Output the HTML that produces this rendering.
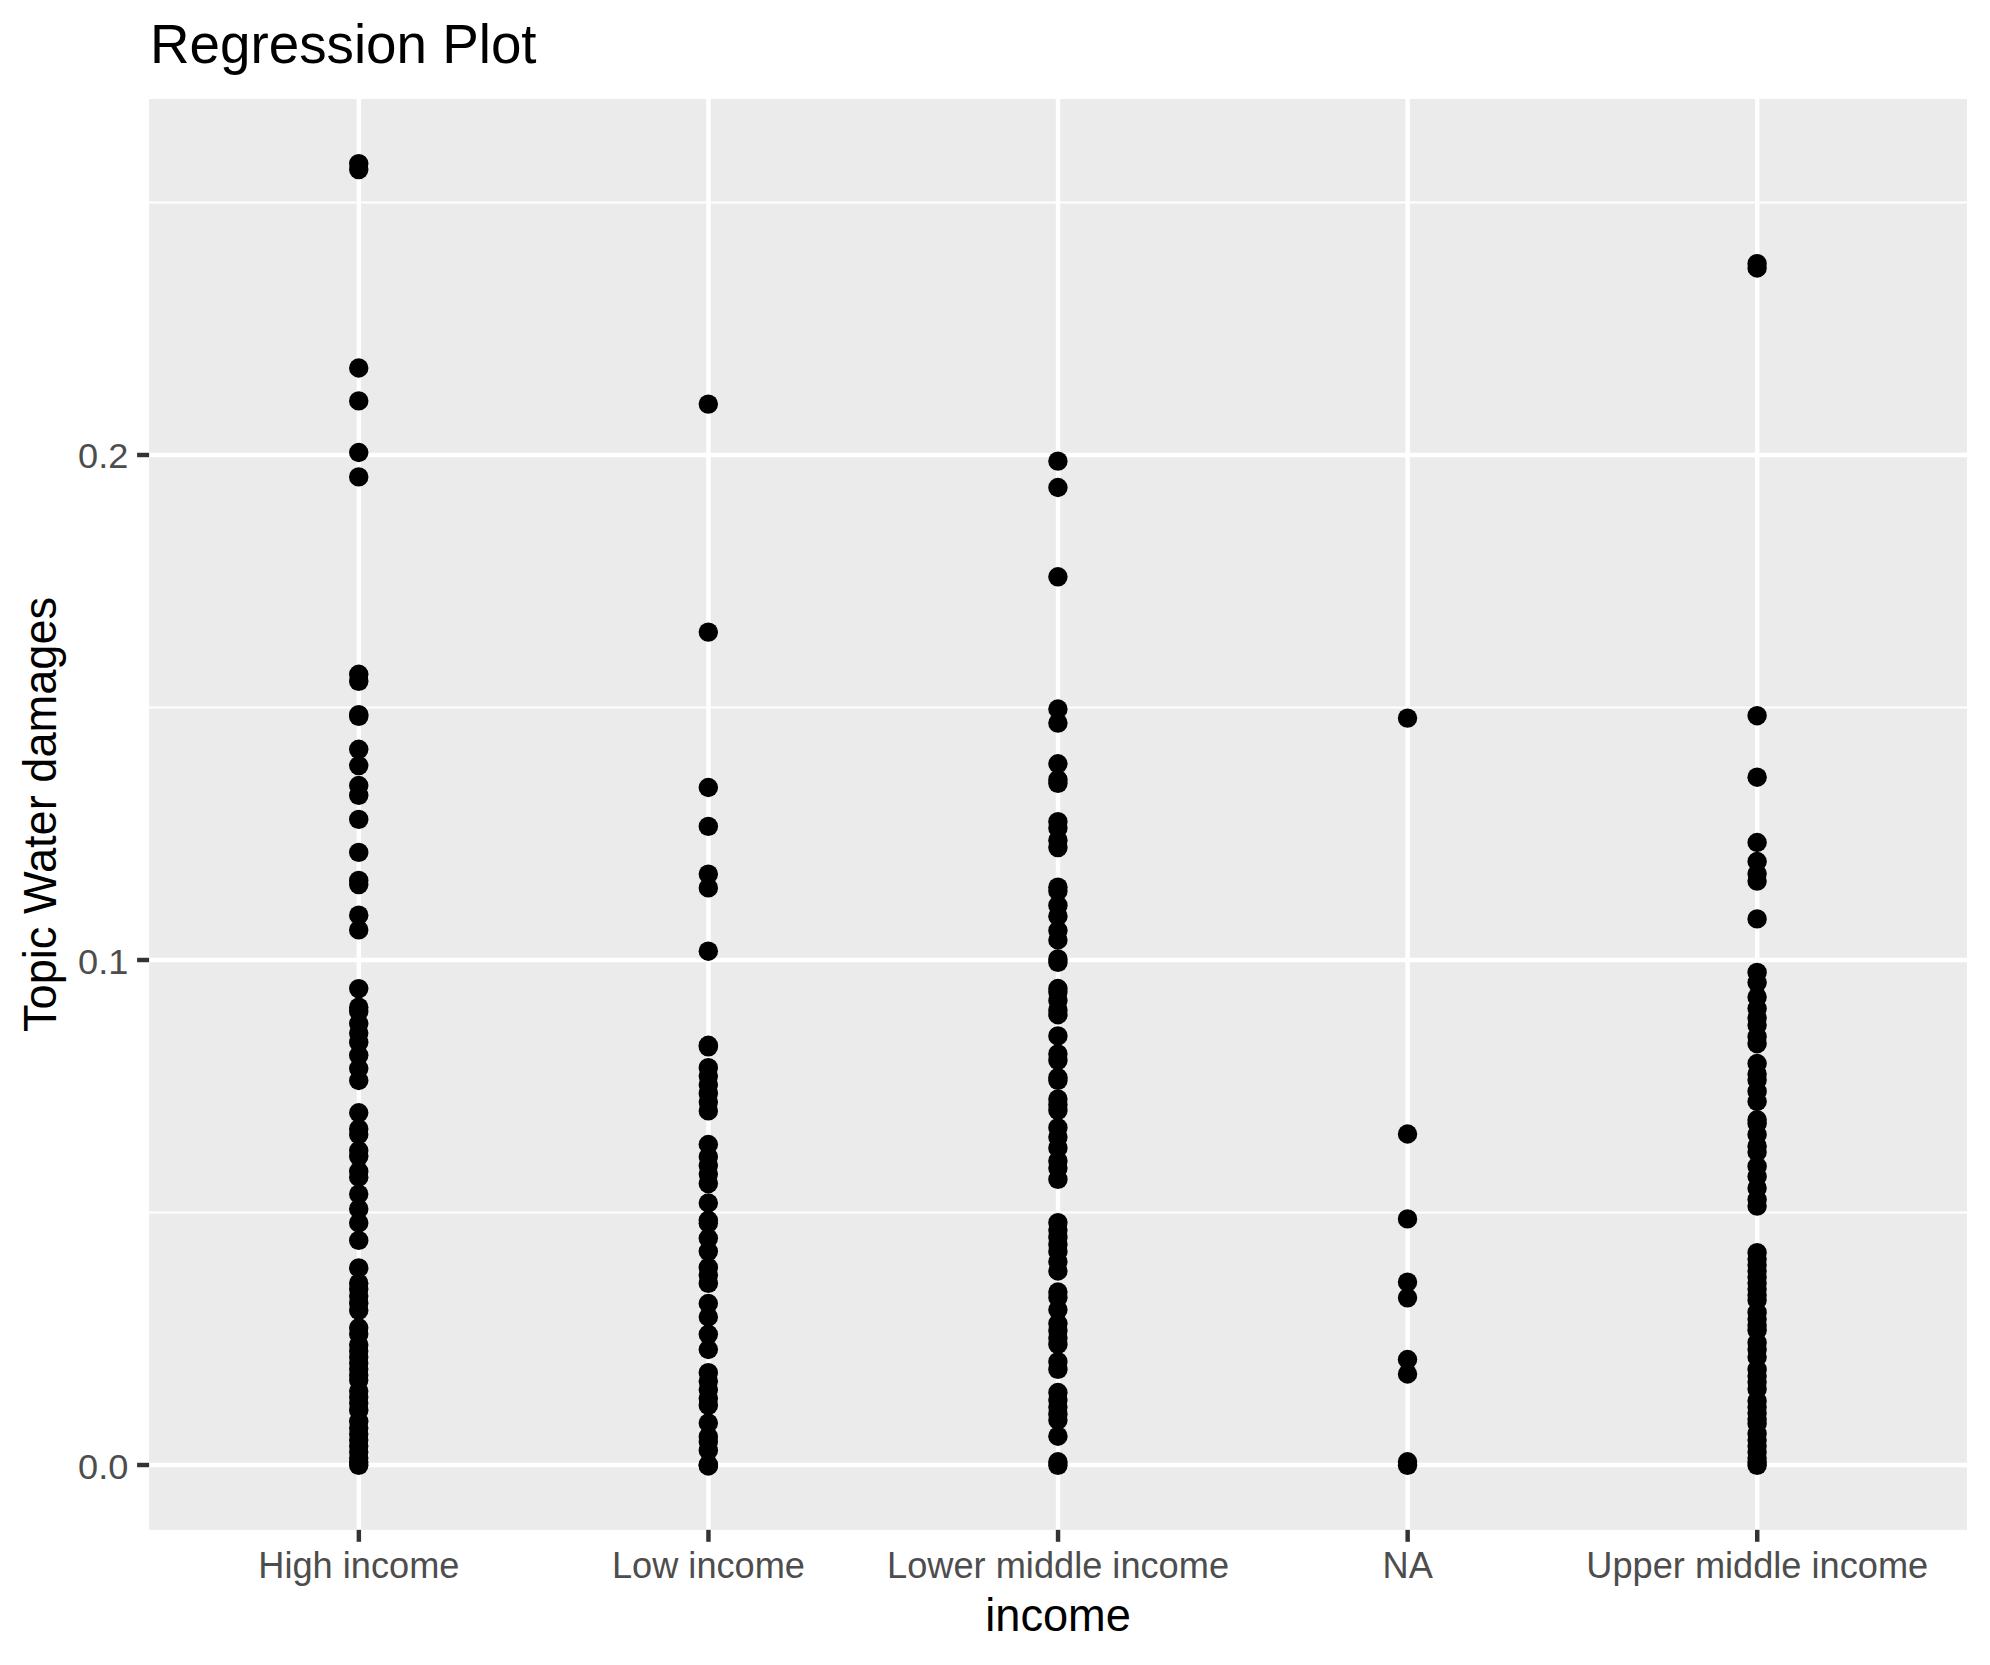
<!DOCTYPE html>
<html><head><meta charset="utf-8"><title>Regression Plot</title>
<style>html,body{margin:0;padding:0;background:#fff}svg{display:block}text{font-family:"Liberation Sans",Arial,Helvetica,sans-serif}</style></head><body>
<svg width="1990" height="1665" viewBox="0 0 1990 1665">
<rect width="1990" height="1665" fill="#fff"/>
<rect x="149.1" y="99.0" width="1817.90" height="1430.85" fill="#EBEBEB"/>
<g stroke="#fff" stroke-width="2.22">
<line x1="149.1" x2="1967.0" y1="1212.50" y2="1212.50"/>
<line x1="149.1" x2="1967.0" y1="707.50" y2="707.50"/>
<line x1="149.1" x2="1967.0" y1="202.50" y2="202.50"/>
</g>
<g stroke="#fff" stroke-width="4.45">
<line x1="149.1" x2="1967.0" y1="1465.00" y2="1465.00"/>
<line x1="149.1" x2="1967.0" y1="960.00" y2="960.00"/>
<line x1="149.1" x2="1967.0" y1="455.00" y2="455.00"/>
<line x1="358.86" x2="358.86" y1="99.0" y2="1529.85"/>
<line x1="708.45" x2="708.45" y1="99.0" y2="1529.85"/>
<line x1="1058.05" x2="1058.05" y1="99.0" y2="1529.85"/>
<line x1="1407.65" x2="1407.65" y1="99.0" y2="1529.85"/>
<line x1="1757.24" x2="1757.24" y1="99.0" y2="1529.85"/>
</g>
<g fill="#000">
<circle cx="358.73" cy="163.6" r="9.72"/>
<circle cx="358.73" cy="169.6" r="9.72"/>
<circle cx="358.73" cy="368.0" r="9.72"/>
<circle cx="358.73" cy="400.9" r="9.72"/>
<circle cx="358.73" cy="452.5" r="9.72"/>
<circle cx="358.73" cy="476.9" r="9.72"/>
<circle cx="358.73" cy="674.3" r="9.72"/>
<circle cx="358.73" cy="681.3" r="9.72"/>
<circle cx="358.73" cy="714.6" r="9.72"/>
<circle cx="358.73" cy="716.4" r="9.72"/>
<circle cx="358.73" cy="749.3" r="9.72"/>
<circle cx="358.73" cy="765.6" r="9.72"/>
<circle cx="358.73" cy="785.5" r="9.72"/>
<circle cx="358.73" cy="795.3" r="9.72"/>
<circle cx="358.73" cy="819.4" r="9.72"/>
<circle cx="358.73" cy="852.4" r="9.72"/>
<circle cx="358.73" cy="880.4" r="9.72"/>
<circle cx="358.73" cy="884.6" r="9.72"/>
<circle cx="358.73" cy="915.2" r="9.72"/>
<circle cx="358.73" cy="929.9" r="9.72"/>
<circle cx="358.73" cy="988.6" r="9.72"/>
<circle cx="358.73" cy="1007.2" r="9.72"/>
<circle cx="358.73" cy="1011.4" r="9.72"/>
<circle cx="358.73" cy="1023.6" r="9.72"/>
<circle cx="358.73" cy="1033.0" r="9.72"/>
<circle cx="358.73" cy="1042.3" r="9.72"/>
<circle cx="358.73" cy="1055.3" r="9.72"/>
<circle cx="358.73" cy="1068.6" r="9.72"/>
<circle cx="358.73" cy="1080.5" r="9.72"/>
<circle cx="358.73" cy="1112.8" r="9.72"/>
<circle cx="358.73" cy="1128.9" r="9.72"/>
<circle cx="358.73" cy="1134.7" r="9.72"/>
<circle cx="358.73" cy="1150.5" r="9.72"/>
<circle cx="358.73" cy="1156.3" r="9.72"/>
<circle cx="358.73" cy="1171.4" r="9.72"/>
<circle cx="358.73" cy="1177.2" r="9.72"/>
<circle cx="358.73" cy="1194.1" r="9.72"/>
<circle cx="358.73" cy="1208.9" r="9.72"/>
<circle cx="358.73" cy="1222.9" r="9.72"/>
<circle cx="358.73" cy="1240.4" r="9.72"/>
<circle cx="358.73" cy="1267.9" r="9.72"/>
<circle cx="358.73" cy="1283.2" r="9.72"/>
<circle cx="358.73" cy="1288.9" r="9.72"/>
<circle cx="358.73" cy="1296.1" r="9.72"/>
<circle cx="358.73" cy="1303.3" r="9.72"/>
<circle cx="358.73" cy="1310.5" r="9.72"/>
<circle cx="358.73" cy="1327.8" r="9.72"/>
<circle cx="358.73" cy="1333.9" r="9.72"/>
<circle cx="358.73" cy="1344.9" r="9.72"/>
<circle cx="358.73" cy="1351.0" r="9.72"/>
<circle cx="358.73" cy="1357.0" r="9.72"/>
<circle cx="358.73" cy="1363.0" r="9.72"/>
<circle cx="358.73" cy="1369.0" r="9.72"/>
<circle cx="358.73" cy="1375.0" r="9.72"/>
<circle cx="358.73" cy="1380.0" r="9.72"/>
<circle cx="358.73" cy="1391.0" r="9.72"/>
<circle cx="358.73" cy="1397.0" r="9.72"/>
<circle cx="358.73" cy="1403.0" r="9.72"/>
<circle cx="358.73" cy="1410.3" r="9.72"/>
<circle cx="358.73" cy="1421.3" r="9.72"/>
<circle cx="358.73" cy="1428.0" r="9.72"/>
<circle cx="358.73" cy="1434.0" r="9.72"/>
<circle cx="358.73" cy="1440.0" r="9.72"/>
<circle cx="358.73" cy="1446.0" r="9.72"/>
<circle cx="358.73" cy="1452.0" r="9.72"/>
<circle cx="358.73" cy="1458.0" r="9.72"/>
<circle cx="358.73" cy="1462.0" r="9.72"/>
<circle cx="358.73" cy="1465.3" r="9.72"/>
<circle cx="708.32" cy="404.1" r="9.72"/>
<circle cx="708.32" cy="632.1" r="9.72"/>
<circle cx="708.32" cy="787.5" r="9.72"/>
<circle cx="708.32" cy="826.4" r="9.72"/>
<circle cx="708.32" cy="874.1" r="9.72"/>
<circle cx="708.32" cy="887.9" r="9.72"/>
<circle cx="708.32" cy="951.2" r="9.72"/>
<circle cx="708.32" cy="1045.3" r="9.72"/>
<circle cx="708.32" cy="1046.8" r="9.72"/>
<circle cx="708.32" cy="1067.7" r="9.72"/>
<circle cx="708.32" cy="1076.0" r="9.72"/>
<circle cx="708.32" cy="1084.8" r="9.72"/>
<circle cx="708.32" cy="1093.4" r="9.72"/>
<circle cx="708.32" cy="1102.0" r="9.72"/>
<circle cx="708.32" cy="1110.9" r="9.72"/>
<circle cx="708.32" cy="1144.5" r="9.72"/>
<circle cx="708.32" cy="1156.8" r="9.72"/>
<circle cx="708.32" cy="1165.5" r="9.72"/>
<circle cx="708.32" cy="1174.1" r="9.72"/>
<circle cx="708.32" cy="1183.6" r="9.72"/>
<circle cx="708.32" cy="1203.0" r="9.72"/>
<circle cx="708.32" cy="1220.3" r="9.72"/>
<circle cx="708.32" cy="1223.2" r="9.72"/>
<circle cx="708.32" cy="1238.3" r="9.72"/>
<circle cx="708.32" cy="1251.3" r="9.72"/>
<circle cx="708.32" cy="1267.3" r="9.72"/>
<circle cx="708.32" cy="1275.2" r="9.72"/>
<circle cx="708.32" cy="1283.4" r="9.72"/>
<circle cx="708.32" cy="1303.5" r="9.72"/>
<circle cx="708.32" cy="1317.0" r="9.72"/>
<circle cx="708.32" cy="1334.3" r="9.72"/>
<circle cx="708.32" cy="1349.5" r="9.72"/>
<circle cx="708.32" cy="1372.7" r="9.72"/>
<circle cx="708.32" cy="1381.2" r="9.72"/>
<circle cx="708.32" cy="1389.8" r="9.72"/>
<circle cx="708.32" cy="1398.5" r="9.72"/>
<circle cx="708.32" cy="1405.4" r="9.72"/>
<circle cx="708.32" cy="1423.0" r="9.72"/>
<circle cx="708.32" cy="1436.7" r="9.72"/>
<circle cx="708.32" cy="1441.7" r="9.72"/>
<circle cx="708.32" cy="1450.4" r="9.72"/>
<circle cx="708.32" cy="1464.5" r="9.72"/>
<circle cx="708.32" cy="1465.3" r="9.72"/>
<circle cx="708.32" cy="1466.0" r="9.72"/>
<circle cx="1057.92" cy="461.1" r="9.72"/>
<circle cx="1057.92" cy="487.5" r="9.72"/>
<circle cx="1057.92" cy="576.8" r="9.72"/>
<circle cx="1057.92" cy="709.0" r="9.72"/>
<circle cx="1057.92" cy="723.1" r="9.72"/>
<circle cx="1057.92" cy="763.8" r="9.72"/>
<circle cx="1057.92" cy="779.6" r="9.72"/>
<circle cx="1057.92" cy="783.3" r="9.72"/>
<circle cx="1057.92" cy="821.7" r="9.72"/>
<circle cx="1057.92" cy="827.9" r="9.72"/>
<circle cx="1057.92" cy="840.2" r="9.72"/>
<circle cx="1057.92" cy="847.6" r="9.72"/>
<circle cx="1057.92" cy="887.2" r="9.72"/>
<circle cx="1057.92" cy="891.0" r="9.72"/>
<circle cx="1057.92" cy="905.4" r="9.72"/>
<circle cx="1057.92" cy="916.2" r="9.72"/>
<circle cx="1057.92" cy="930.6" r="9.72"/>
<circle cx="1057.92" cy="940.0" r="9.72"/>
<circle cx="1057.92" cy="958.9" r="9.72"/>
<circle cx="1057.92" cy="962.4" r="9.72"/>
<circle cx="1057.92" cy="988.5" r="9.72"/>
<circle cx="1057.92" cy="991.9" r="9.72"/>
<circle cx="1057.92" cy="1000.5" r="9.72"/>
<circle cx="1057.92" cy="1009.9" r="9.72"/>
<circle cx="1057.92" cy="1014.7" r="9.72"/>
<circle cx="1057.92" cy="1035.9" r="9.72"/>
<circle cx="1057.92" cy="1053.9" r="9.72"/>
<circle cx="1057.92" cy="1060.4" r="9.72"/>
<circle cx="1057.92" cy="1077.5" r="9.72"/>
<circle cx="1057.92" cy="1080.4" r="9.72"/>
<circle cx="1057.92" cy="1099.0" r="9.72"/>
<circle cx="1057.92" cy="1104.7" r="9.72"/>
<circle cx="1057.92" cy="1110.4" r="9.72"/>
<circle cx="1057.92" cy="1127.7" r="9.72"/>
<circle cx="1057.92" cy="1137.1" r="9.72"/>
<circle cx="1057.92" cy="1147.9" r="9.72"/>
<circle cx="1057.92" cy="1160.9" r="9.72"/>
<circle cx="1057.92" cy="1168.1" r="9.72"/>
<circle cx="1057.92" cy="1179.4" r="9.72"/>
<circle cx="1057.92" cy="1222.7" r="9.72"/>
<circle cx="1057.92" cy="1230.1" r="9.72"/>
<circle cx="1057.92" cy="1237.3" r="9.72"/>
<circle cx="1057.92" cy="1244.5" r="9.72"/>
<circle cx="1057.92" cy="1251.7" r="9.72"/>
<circle cx="1057.92" cy="1261.8" r="9.72"/>
<circle cx="1057.92" cy="1271.0" r="9.72"/>
<circle cx="1057.92" cy="1292.0" r="9.72"/>
<circle cx="1057.92" cy="1297.6" r="9.72"/>
<circle cx="1057.92" cy="1309.8" r="9.72"/>
<circle cx="1057.92" cy="1323.5" r="9.72"/>
<circle cx="1057.92" cy="1330.7" r="9.72"/>
<circle cx="1057.92" cy="1337.9" r="9.72"/>
<circle cx="1057.92" cy="1344.4" r="9.72"/>
<circle cx="1057.92" cy="1361.7" r="9.72"/>
<circle cx="1057.92" cy="1369.4" r="9.72"/>
<circle cx="1057.92" cy="1392.5" r="9.72"/>
<circle cx="1057.92" cy="1399.9" r="9.72"/>
<circle cx="1057.92" cy="1407.1" r="9.72"/>
<circle cx="1057.92" cy="1414.3" r="9.72"/>
<circle cx="1057.92" cy="1420.1" r="9.72"/>
<circle cx="1057.92" cy="1436.2" r="9.72"/>
<circle cx="1057.92" cy="1461.8" r="9.72"/>
<circle cx="1057.92" cy="1465.3" r="9.72"/>
<circle cx="1407.52" cy="718.1" r="9.72"/>
<circle cx="1407.52" cy="1134.0" r="9.72"/>
<circle cx="1407.52" cy="1218.9" r="9.72"/>
<circle cx="1407.52" cy="1282.1" r="9.72"/>
<circle cx="1407.52" cy="1297.8" r="9.72"/>
<circle cx="1407.52" cy="1359.5" r="9.72"/>
<circle cx="1407.52" cy="1374.0" r="9.72"/>
<circle cx="1407.52" cy="1461.8" r="9.72"/>
<circle cx="1407.52" cy="1465.3" r="9.72"/>
<circle cx="1757.11" cy="263.7" r="9.72"/>
<circle cx="1757.11" cy="268.0" r="9.72"/>
<circle cx="1757.11" cy="715.7" r="9.72"/>
<circle cx="1757.11" cy="777.2" r="9.72"/>
<circle cx="1757.11" cy="842.5" r="9.72"/>
<circle cx="1757.11" cy="861.5" r="9.72"/>
<circle cx="1757.11" cy="873.8" r="9.72"/>
<circle cx="1757.11" cy="881.1" r="9.72"/>
<circle cx="1757.11" cy="918.9" r="9.72"/>
<circle cx="1757.11" cy="972.4" r="9.72"/>
<circle cx="1757.11" cy="982.6" r="9.72"/>
<circle cx="1757.11" cy="997.0" r="9.72"/>
<circle cx="1757.11" cy="1008.6" r="9.72"/>
<circle cx="1757.11" cy="1017.9" r="9.72"/>
<circle cx="1757.11" cy="1025.1" r="9.72"/>
<circle cx="1757.11" cy="1036.7" r="9.72"/>
<circle cx="1757.11" cy="1043.7" r="9.72"/>
<circle cx="1757.11" cy="1063.5" r="9.72"/>
<circle cx="1757.11" cy="1074.1" r="9.72"/>
<circle cx="1757.11" cy="1079.9" r="9.72"/>
<circle cx="1757.11" cy="1091.4" r="9.72"/>
<circle cx="1757.11" cy="1101.5" r="9.72"/>
<circle cx="1757.11" cy="1119.8" r="9.72"/>
<circle cx="1757.11" cy="1123.6" r="9.72"/>
<circle cx="1757.11" cy="1134.7" r="9.72"/>
<circle cx="1757.11" cy="1146.2" r="9.72"/>
<circle cx="1757.11" cy="1152.0" r="9.72"/>
<circle cx="1757.11" cy="1166.4" r="9.72"/>
<circle cx="1757.11" cy="1176.5" r="9.72"/>
<circle cx="1757.11" cy="1188.0" r="9.72"/>
<circle cx="1757.11" cy="1199.5" r="9.72"/>
<circle cx="1757.11" cy="1206.1" r="9.72"/>
<circle cx="1757.11" cy="1252.7" r="9.72"/>
<circle cx="1757.11" cy="1259.0" r="9.72"/>
<circle cx="1757.11" cy="1265.0" r="9.72"/>
<circle cx="1757.11" cy="1271.0" r="9.72"/>
<circle cx="1757.11" cy="1277.0" r="9.72"/>
<circle cx="1757.11" cy="1283.0" r="9.72"/>
<circle cx="1757.11" cy="1289.0" r="9.72"/>
<circle cx="1757.11" cy="1295.0" r="9.72"/>
<circle cx="1757.11" cy="1300.0" r="9.72"/>
<circle cx="1757.11" cy="1312.4" r="9.72"/>
<circle cx="1757.11" cy="1319.0" r="9.72"/>
<circle cx="1757.11" cy="1325.0" r="9.72"/>
<circle cx="1757.11" cy="1330.3" r="9.72"/>
<circle cx="1757.11" cy="1342.7" r="9.72"/>
<circle cx="1757.11" cy="1349.5" r="9.72"/>
<circle cx="1757.11" cy="1357.0" r="9.72"/>
<circle cx="1757.11" cy="1369.4" r="9.72"/>
<circle cx="1757.11" cy="1376.0" r="9.72"/>
<circle cx="1757.11" cy="1382.0" r="9.72"/>
<circle cx="1757.11" cy="1388.9" r="9.72"/>
<circle cx="1757.11" cy="1400.9" r="9.72"/>
<circle cx="1757.11" cy="1407.0" r="9.72"/>
<circle cx="1757.11" cy="1413.0" r="9.72"/>
<circle cx="1757.11" cy="1419.0" r="9.72"/>
<circle cx="1757.11" cy="1423.7" r="9.72"/>
<circle cx="1757.11" cy="1433.7" r="9.72"/>
<circle cx="1757.11" cy="1440.0" r="9.72"/>
<circle cx="1757.11" cy="1446.0" r="9.72"/>
<circle cx="1757.11" cy="1452.0" r="9.72"/>
<circle cx="1757.11" cy="1458.0" r="9.72"/>
<circle cx="1757.11" cy="1462.0" r="9.72"/>
<circle cx="1757.11" cy="1465.3" r="9.72"/>
</g>
<g stroke="#333" stroke-width="4.45">
<line x1="137.10" x2="149.1" y1="1465.00" y2="1465.00"/>
<line x1="137.10" x2="149.1" y1="960.00" y2="960.00"/>
<line x1="137.10" x2="149.1" y1="455.00" y2="455.00"/>
<line x1="358.86" x2="358.86" y1="1529.85" y2="1541.80"/>
<line x1="708.45" x2="708.45" y1="1529.85" y2="1541.80"/>
<line x1="1058.05" x2="1058.05" y1="1529.85" y2="1541.80"/>
<line x1="1407.65" x2="1407.65" y1="1529.85" y2="1541.80"/>
<line x1="1757.24" x2="1757.24" y1="1529.85" y2="1541.80"/>
</g>
<g fill="#4D4D4D" font-size="36.67px">
<text transform="translate(128.4,1478.8) scale(0.987,0.972)" text-anchor="end">0.0</text>
<text transform="translate(128.4,973.8) scale(0.987,0.972)" text-anchor="end">0.1</text>
<text transform="translate(128.4,467.9) scale(0.987,0.972)" text-anchor="end">0.2</text>
<text transform="translate(358.86,1577.8) scale(0.987,1)" text-anchor="middle">High income</text>
<text transform="translate(708.45,1577.8) scale(0.987,1)" text-anchor="middle">Low income</text>
<text transform="translate(1058.05,1577.8) scale(0.987,1)" text-anchor="middle">Lower middle income</text>
<text transform="translate(1407.65,1577.8) scale(0.987,1)" text-anchor="middle">NA</text>
<text transform="translate(1757.24,1577.8) scale(0.987,1)" text-anchor="middle">Upper middle income</text>
</g>
<text transform="translate(1058.05,1630.5) scale(0.986,1)" text-anchor="middle" font-size="45.83px" fill="#000">income</text>
<text transform="translate(55.5,814.42) rotate(-90) scale(0.986,1)" text-anchor="middle" font-size="45.83px" fill="#000">Topic Water damages</text>
<text transform="translate(150.00,63) scale(0.996,1)" font-size="55px" fill="#000">Regression Plot</text>
</svg></body></html>
